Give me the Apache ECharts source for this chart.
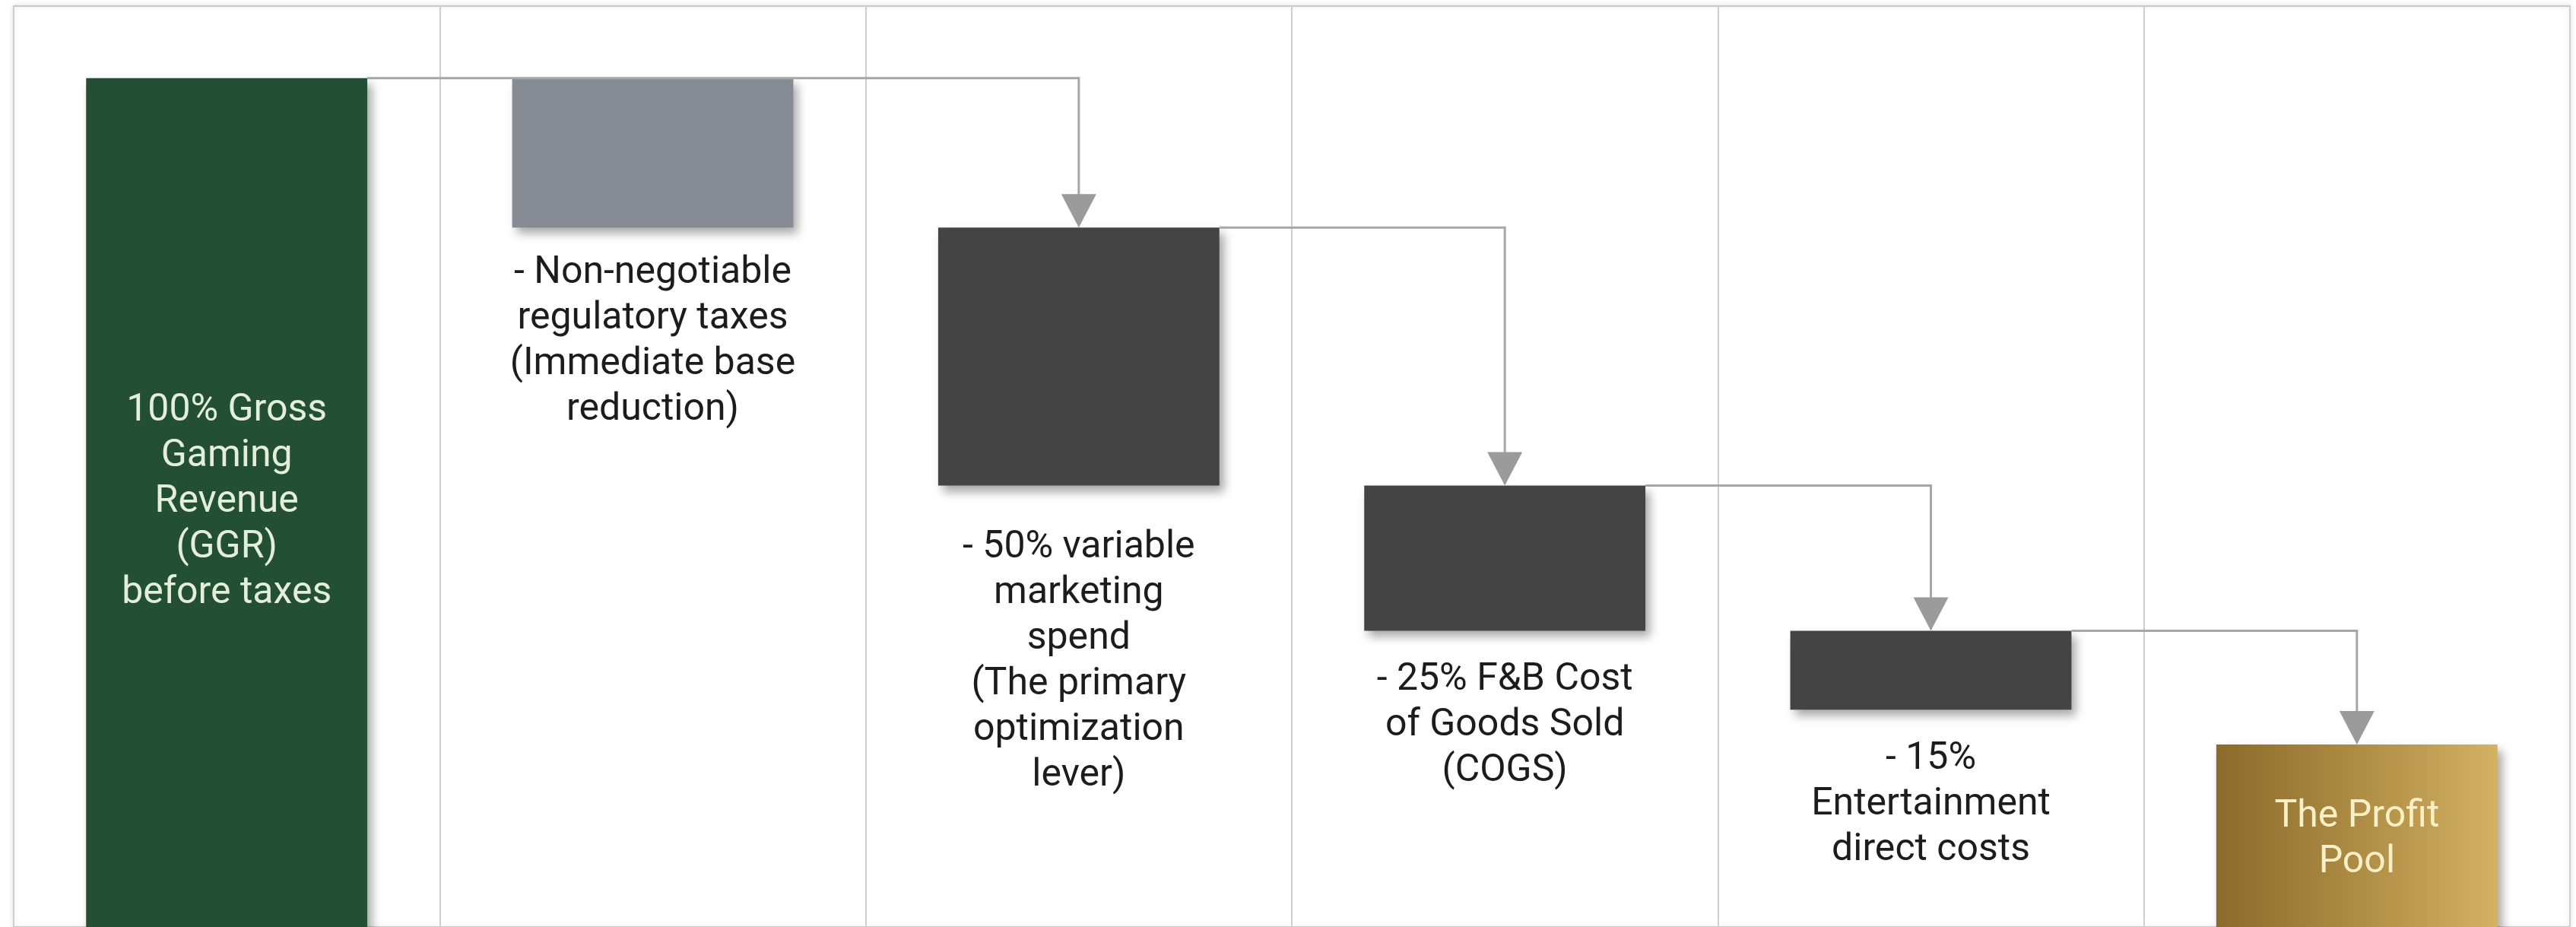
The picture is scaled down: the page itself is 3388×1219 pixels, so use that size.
<!DOCTYPE html>
<html>
<head>
<meta charset="utf-8">
<script src="https://cdn.jsdelivr.net/npm/echarts@6/dist/echarts.min.js"></script>
<style>
  html, body { margin: 0; padding: 0; background: #fff; }
  #chart { width: 3388px; height: 1219px; }
</style>
</head>
<body>
<div id="chart"></div>
<script>
const categories = ['GGR', 'Taxes', 'Marketing', 'F&B COGS', 'Entertainment', 'Profit Pool'];
// top and bottom of each step, in % of GGR as drawn
const barTops = [100, 100, 82.4, 52.0, 34.9, 21.5];
const barBottoms = [0, 82.4, 52.0, 34.9, 25.6, 0];
const barLabels = [
  '100% Gross\nGaming\nRevenue\n(GGR)\nbefore taxes',
  '- Non-negotiable\nregulatory taxes\n(Immediate base\nreduction)',
  '- 50% variable\nmarketing\nspend\n(The primary\noptimization\nlever)',
  '- 25% F&B Cost\nof Goods Sold\n(COGS)',
  '- 15%\nEntertainment\ndirect costs',
  'The Profit\nPool'
];
// connectors: from bar, to bar, level leaving, level arriving
const links = [
  [0, 2, 100, 82.4],
  [2, 3, 82.4, 52.0],
  [3, 4, 52.0, 34.9],
  [4, 5, 34.9, 21.5]
];

const BAR_RATIO = 0.66;
const FONT = 'Roboto, "Noto Sans", sans-serif';
const labelGap = [0, 30, 52, 35, 35, 0];

const myChart = echarts.init(document.getElementById('chart'), null, { renderer: 'canvas' });

const gold = new echarts.graphic.LinearGradient(0, 0, 1, 0, [
  { offset: 0, color: '#8b6b2b' },
  { offset: 0.5, color: '#ad8c44' },
  { offset: 1, color: '#d3b264' }
]);
const colors = ['#234f35', '#878c94', '#444444', '#444444', '#444444', gold];

const stepData = barTops.map((top, i) => {
  const inside = i === 0 || i === barTops.length - 1;
  return {
    value: +(top - barBottoms[i]).toFixed(1),
    itemStyle: { color: colors[i] },
    label: {
      show: true,
      formatter: barLabels[i],
      position: inside ? 'inside' : 'bottom',
      distance: labelGap[i],
      offset: i === barTops.length - 1 ? [0, 5] : [0, 0],
      color: i === 0 ? '#e3efdc' : (inside ? '#fbefc6' : '#1c1c1c'),
      fontSize: 50,
      lineHeight: 60,
      fontFamily: FONT,
      align: 'center'
    }
  };
});

const option = {
  backgroundColor: '#ffffff',
  animation: false,
  grid: {
    left: 18,
    right: 8,
    top: 8,
    bottom: -4,
    show: true,
    backgroundColor: '#ffffff',
    borderColor: '#c9c9c9',
    borderWidth: 2,
    shadowColor: 'rgba(0,0,0,0.12)',
    shadowBlur: 6
  },
  xAxis: {
    type: 'category',
    data: categories,
    axisLine: { show: false },
    axisTick: { show: false },
    axisLabel: { show: false },
    splitLine: { show: true, lineStyle: { color: '#cfcfcf', width: 2 } }
  },
  yAxis: {
    type: 'value',
    min: 0,
    max: 108.5,
    show: false,
    splitLine: { show: false }
  },
  series: [
    {
      type: 'bar',
      name: 'base',
      stack: 'fall',
      barWidth: (BAR_RATIO * 100) + '%',
      silent: true,
      itemStyle: { color: 'transparent' },
      data: barBottoms
    },
    {
      type: 'bar',
      name: 'step',
      stack: 'fall',
      barWidth: (BAR_RATIO * 100) + '%',
      itemStyle: {
        shadowColor: 'rgba(0,0,0,0.35)',
        shadowBlur: 12,
        shadowOffsetX: 6,
        shadowOffsetY: 8
      },
      data: stepData
    },
    {
      type: 'custom',
      name: 'links',
      z: 5,
      encode: { x: [0, 1], y: [2, 3] },
      data: links,
      renderItem: (params, api) => {
        const from = api.coord([api.value(0), api.value(2)]);
        const to = api.coord([api.value(1), api.value(3)]);
        const half = api.size([1, 0])[0] * BAR_RATIO / 2;
        const aw = 46;
        const ah = 44;
        return {
          type: 'group',
          children: [
            {
              type: 'polyline',
              shape: { points: [[from[0] + half, from[1]], [to[0], from[1]], [to[0], to[1] - ah + 2]] },
              style: { stroke: '#a6a6a6', lineWidth: 3, fill: null }
            },
            {
              type: 'polygon',
              shape: { points: [[to[0] - aw / 2, to[1] - ah], [to[0] + aw / 2, to[1] - ah], [to[0], to[1]]] },
              style: { fill: '#9b9b9b' }
            }
          ]
        };
      }
    }
  ]
};

myChart.setOption(option);
window.addEventListener('resize', () => myChart.resize());
</script>
</body>
</html>
